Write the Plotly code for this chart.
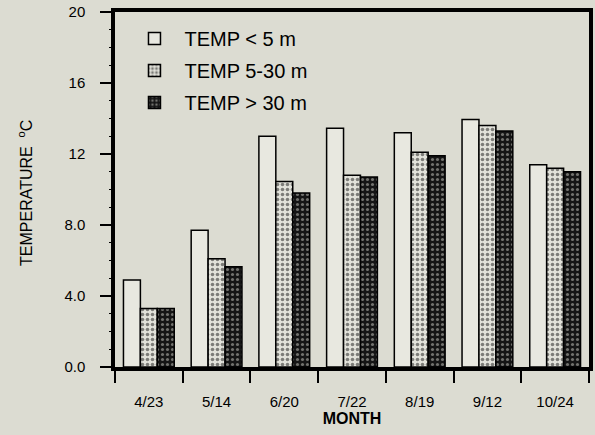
import plotly.graph_objects as go

# Sampling dates and mean water temperature (deg C) by depth layer
months = ["4/23", "5/14", "6/20", "7/22", "8/19", "9/12", "10/24"]
temp_shallow = [4.9, 7.7, 13.0, 13.45, 13.2, 13.95, 11.4]
temp_mid = [3.3, 6.1, 10.45, 10.8, 12.1, 13.6, 11.2]
temp_deep = [3.3, 5.65, 9.8, 10.7, 11.9, 13.3, 11.0]
series_names = ["TEMP < 5 m", "TEMP 5-30 m", "TEMP > 30 m"]
y_ticks = [0, 4, 8, 12, 16, 20]
y_tick_text = ["0.0", "4.0", "8.0", "12", "16", "20"]
y_range = [0, 20]

BG = "#dcdcd2"
FONT = "Liberation Sans, Arial, sans-serif"

fig = go.Figure()
fig.add_trace(go.Bar(
    x=months, y=temp_shallow, name=series_names[0], legendgroup="a",
    marker=dict(color="#e8e8e0", line=dict(color="black", width=1.5)),
))
fig.add_trace(go.Bar(
    x=months, y=temp_mid, name=series_names[1], legendgroup="b",
    marker=dict(color="#a0a098", line=dict(color="black", width=1.5),
                pattern=dict(shape=".", fgcolor="#151515", bgcolor="#e2e2da",
                             size=5, solidity=0.4)),
))
fig.add_trace(go.Bar(
    x=months, y=temp_deep, name=series_names[2], legendgroup="c",
    marker=dict(color="#303030", line=dict(color="black", width=1.5),
                pattern=dict(shape=".", fgcolor="#d0d0c8", bgcolor="#151515",
                             size=5, solidity=0.3)),
))
# invisible helper trace so the minor-tick axis is drawn
fig.add_trace(go.Scatter(x=[months[0]], y=[0], yaxis="y2", mode="markers",
                         marker=dict(opacity=0), showlegend=False, hoverinfo="skip"))

fig.update_layout(
    width=595, height=435,
    margin=dict(l=115, r=2, t=12, b=68),
    paper_bgcolor=BG, plot_bgcolor=BG,
    font=dict(family=FONT, color="black"),
    barmode="group", bargap=0.25, bargroupgap=0,
    showlegend=True,
    legend=dict(x=0.02, y=0.98, xanchor="left", yanchor="top",
                bgcolor="rgba(0,0,0,0)", font=dict(size=20, family=FONT),
                traceorder="grouped", tracegroupgap=3, itemwidth=50),
)

fig.update_xaxes(
    type="category", tickson="boundaries", ticks="outside", ticklen=12,
    tickwidth=1.5, tickcolor="black",
    showline=True, linewidth=3.5, linecolor="black", mirror=True,
    showgrid=False, tickfont=dict(size=15, family=FONT),
    ticklabelstandoff=18,
    title=dict(text="<b>MONTH</b>", font=dict(size=16, family=FONT), standoff=0),
)
fig.update_layout(
    yaxis=dict(
        range=y_range, tickmode="array", tickvals=y_ticks, ticktext=y_tick_text,
        ticks="outside", ticklen=11, tickwidth=2, tickcolor="black",
        showline=True, linewidth=3.5, linecolor="black", mirror=True,
        showgrid=False, zeroline=False,
        tickfont=dict(size=15, family=FONT), ticklabelstandoff=12,
    ),
    yaxis2=dict(
        range=y_range, overlaying="y", side="left", dtick=1,
        ticks="outside", ticklen=5, tickwidth=1.2, tickcolor="black",
        showticklabels=False, showline=False, showgrid=False, zeroline=False,
    ),
)

fig.add_annotation(
    text="TEMPERATURE  <sup>o</sup>C", textangle=-90,
    xref="paper", yref="paper", x=-0.19, y=0.49,
    xanchor="center", yanchor="middle", showarrow=False,
    font=dict(size=16, family=FONT),
)

fig.write_html("out.html")
